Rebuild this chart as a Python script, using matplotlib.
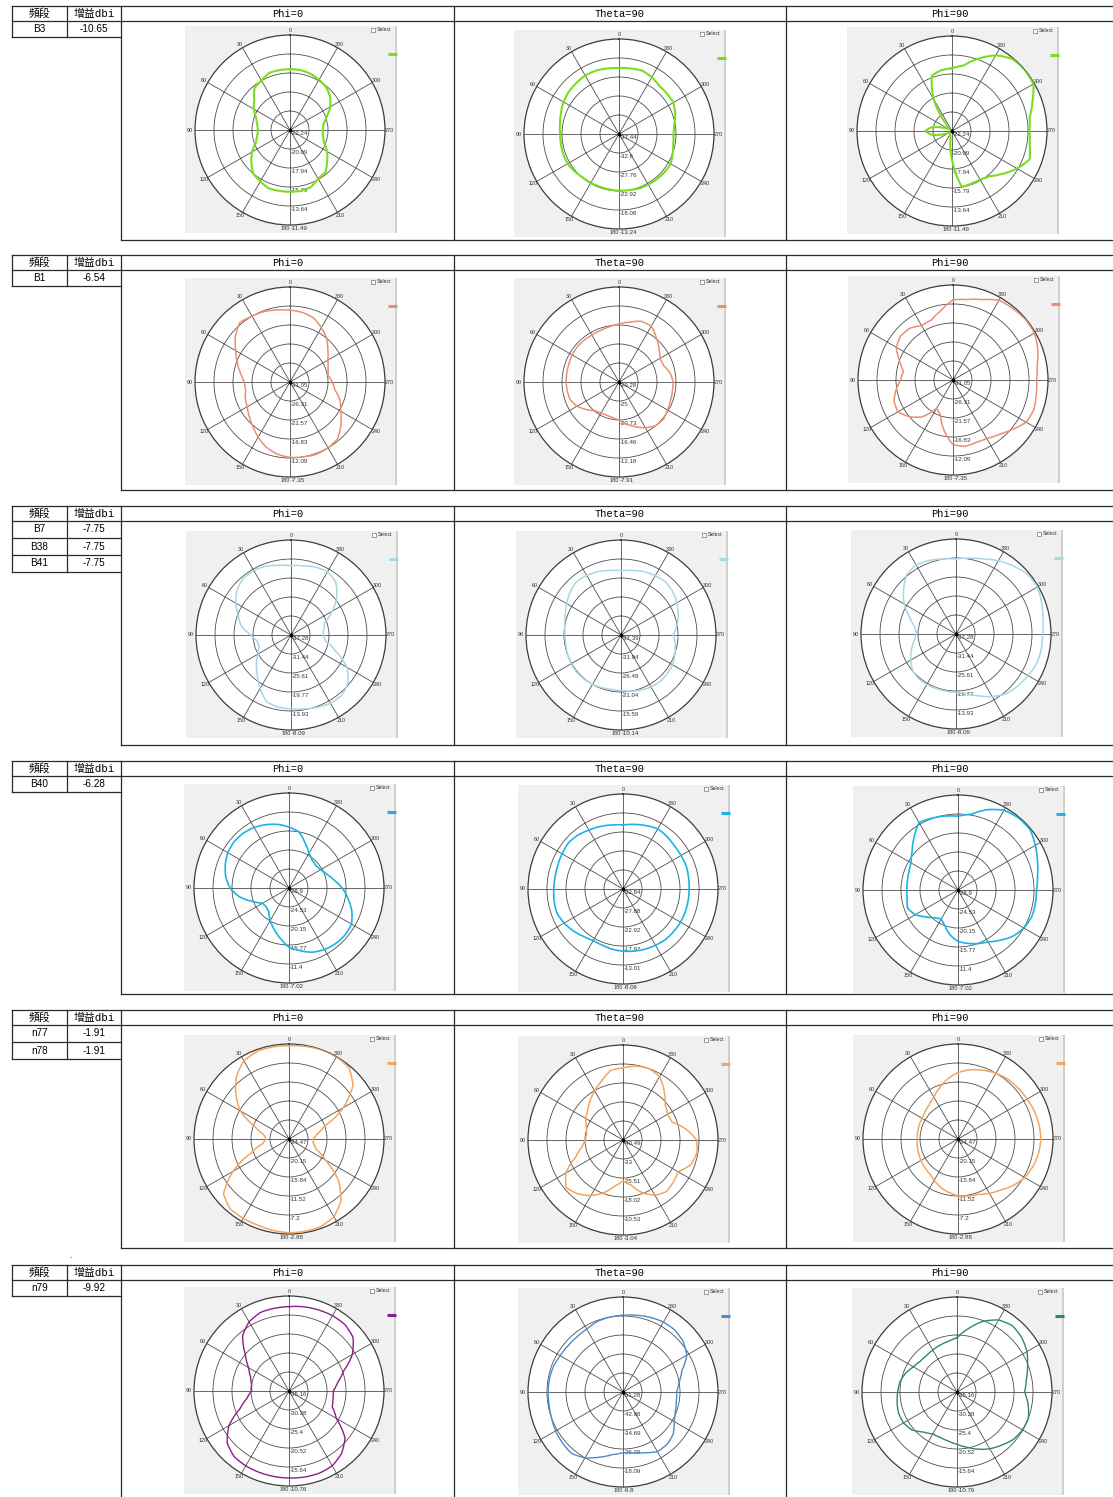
import numpy as np
import matplotlib.pyplot as plt
from matplotlib.patches import Rectangle

plt.rcParams['font.family'] = ['DejaVu Sans', 'Noto Sans CJK SC']

W, H = 1113, 1497

# gain (dB) sampled every 10 deg, 0..350
angles = list(range(0, 360, 10))

bands = [['B3'], ['B1'], ['B7', 'B38', 'B41'], ['B40'], ['n77', 'n78'], ['n79']]
gains = [['-10.65'], ['-6.54'], ['-7.75', '-7.75', '-7.75'], ['-6.28'], ['-1.91', '-1.91'], ['-9.92']]
cuts = ['Phi=0', 'Theta=90', 'Phi=90']

# radial grid of each plot: centre, 4 rings, outer circle
rings = [
    [[-22.24, -20.09, -17.94, -15.79, -13.64, -11.49], [-37.44, -32.6, -27.76, -22.92, -18.08, -13.24],
     [-22.24, -20.09, -17.94, -15.79, -13.64, -11.49]],
    [[-31.05, -26.31, -21.57, -16.83, -12.09, -7.35], [-29.28, -25, -20.73, -16.46, -12.18, -7.91],
     [-31.05, -26.31, -21.57, -16.83, -12.09, -7.35]],
    [[-37.28, -31.44, -25.61, -19.77, -13.93, -8.09], [-37.39, -31.94, -26.49, -21.04, -15.59, -10.14],
     [-37.28, -31.44, -25.61, -19.77, -13.93, -8.09]],
    [[-28.9, -24.53, -20.15, -15.77, -11.4, -7.02], [-32.84, -27.88, -22.92, -17.97, -13.01, -8.06],
     [-28.9, -24.53, -20.15, -15.77, -11.4, -7.02]],
    [[-24.47, -20.15, -15.84, -11.52, -7.2, -2.88], [-40.49, -33, -25.51, -18.02, -10.53, -3.04],
     [-24.47, -20.15, -15.84, -11.52, -7.2, -2.88]],
    [[-35.16, -30.28, -25.4, -20.52, -15.64, -10.76], [-51.28, -42.98, -34.69, -26.39, -18.09, -9.8],
     [-35.16, -30.28, -25.4, -20.52, -15.64, -10.76]],
]

b3_phi0 = [-15.36, -15.36, -15.36, -15.79, -16.0, -16.97,
           -17.51, -18.16, -18.48, -18.63, -18.48, -18.16,
           -17.3, -16.54, -15.79, -15.53, -15.21, -15.25,
           -15.25, -15.25, -15.36, -15.9, -16.0, -16.76,
           -17.4, -18.16, -18.48, -18.54, -18.41, -17.83,
           -16.97, -16.33, -15.9, -15.68, -15.47, -15.36]
b3_theta90 = [-20.65, -20.5, -20.26, -20.26, -20.5, -20.74,
              -21.13, -21.71, -22.19, -22.44, -22.44, -22.34,
              -22.34, -22.68, -23.02, -23.11, -23.16, -23.11,
              -23.02, -22.92, -22.68, -22.53, -22.44, -22.34,
              -22.24, -22.92, -23.4, -23.6, -23.16, -22.19,
              -21.47, -21.47, -21.47, -20.74, -20.26, -20.5]
b3_phi90 = [-15.15, -15.25, -15.58, -18.16, -21.27, -21.7,
            -21.81, -21.17, -19.87, -19.23, -19.87, -21.17,
            -21.81, -21.92, -21.92, -21.81, -21.7, -21.38,
            -19.02, -15.83, -15.9, -15.9, -15.58, -14.72,
            -13.75, -12.89, -13.32, -13.49, -13.32, -12.56,
            -11.6, -11.49, -11.6, -12.35, -13.53, -14.72]

b1_phi0 = [-13.13, -12.8, -12.33, -12.09, -11.62, -13.27,
           -15.41, -17.07, -18.54, -19.67, -19.82, -19.2,
           -18.73, -17.78, -16.59, -15.17, -13.75, -12.8,
           -12.23, -12.09, -11.85, -12.09, -12.56, -14.46,
           -16.45, -17.78, -19.67, -20.53, -21.43, -20.95,
           -20.15, -18.73, -16.83, -15.41, -13.99, -13.42]
b1_theta90 = [-16.24, -16.67, -16.97, -17.06, -17.06, -17.01,
              -17.1, -17.31, -17.36, -17.4, -17.48, -17.61,
              -18.38, -19.66, -20.86, -21.24, -21.33, -21.16,
              -20.73, -19.66, -18.59, -17.4, -16.46, -16.24,
              -16.67, -16.97, -17.1, -17.1, -17.61, -18.59,
              -18.68, -17.53, -16.24, -14.75, -14.75, -15.6]
b1_phi90 = [-11.05, -13.51, -15.17, -15.41, -14.22, -13.99,
            -14.7, -16.83, -18.49, -18.01, -16.59, -15.41,
            -15.17, -16.83, -19.01, -22.99, -21.81, -18.25,
            -14.93, -14.22, -14.46, -14.22, -13.27, -11.85,
            -9.96, -9.58, -9.96, -10.19, -9.72, -8.53,
            -7.59, -7.49, -7.82, -8.06, -9.72, -10.67]

b7_phi0 = [-15.97, -15.56, -14.8, -14.4, -14.51, -15.68,
           -17.72, -20.06, -21.81, -25.02, -26.77, -26.89,
           -25.6, -23.39, -21.23, -18.31, -15.39, -14.8,
           -14.57, -14.22, -13.64, -13.05, -13.05, -14.4,
           -17.43, -22.68, -26.48, -27.53, -27.06, -26.3,
           -22.68, -18.89, -15.97, -14.8, -15.1, -15.68]
b7_theta90 = [-18.91, -18.59, -18.04, -17.66, -17.5, -18.31,
              -19.4, -20.39, -21.04, -21.37, -21.31, -21.09,
              -20.93, -20.77, -20.88, -21.04, -21.31, -21.58,
              -21.48, -21.04, -20.6, -20.22, -19.95, -20.11,
              -20.33, -20.93, -21.58, -22.4, -21.04, -19.95,
              -18.86, -18.04, -17.5, -17.77, -18.04, -18.59]
b7_phi90 = [-14.22, -13.93, -13.23, -12.76, -13.64, -16.26,
            -18.89, -22.1, -24.44, -25.25, -24.14, -22.68,
            -21.23, -19.88, -19.36, -19.36, -19.47, -19.47,
            -19.36, -18.6, -17.08, -15.1, -13.34, -12.47,
            -11.71, -10.89, -10.66, -10.66, -10.13, -9.26,
            -8.38, -8.67, -9.96, -11.3, -12.76, -13.64]

b40_phi0 = [-14.85, -14.02, -13.37, -12.8, -12.45, -12.36,
            -12.62, -13.28, -14.11, -15.33, -17.3, -19.93,
            -21.9, -22.12, -21.68, -20.24, -18.84, -17.17,
            -15.25, -14.24, -13.15, -12.53, -12.18, -12.05,
            -12.27, -13.5, -15.12, -16.65, -18.4, -19.62,
            -20.5, -20.85, -20.59, -19.71, -17.96, -15.77]
b40_theta90 = [-16.14, -15.89, -15.49, -15.1, -14.5, -14.21,
               -14.5, -14.75, -14.85, -14.8, -14.6, -14.5,
               -15.1, -15.89, -16.73, -17.33, -17.23, -16.88,
               -16.63, -16.39, -16.14, -15.89, -15.64, -15.59,
               -15.54, -15.54, -15.59, -15.59, -15.49, -15.3,
               -15.35, -15.35, -15.0, -14.7, -15.25, -15.74]
b40_phi90 = [-11.92, -11.61, -11.31, -10.96, -13.15, -15.12,
             -16.43, -16.87, -17.08, -17.13, -17.0, -16.56,
             -17.52, -19.27, -20.59, -21.24, -20.15, -18.4,
             -17.08, -16.43, -15.77, -15.12, -13.8, -12.36,
             -11.4, -10.83, -10.83, -10.83, -10.3, -9.43,
             -8.33, -7.24, -7.24, -7.68, -9.21, -11.18]

n77_phi0 = [-3.27, -3.23, -3.27, -3.96, -5.9, -8.71,
            -11.73, -16.27, -18.64, -19.29, -18.42, -15.4,
            -9.79, -5.04, -3.7, -3.66, -3.66, -3.4,
            -3.18, -3.18, -3.31, -4.09, -6.12, -9.79,
            -14.97, -17.99, -18.86, -18.99, -17.99, -15.88,
            -10.22, -5.47, -3.31, -2.88, -2.88, -3.1]
n77_theta90 = [-12.03, -12.63, -15.77, -18.24, -20.27, -22.36,
               -23.56, -25.14, -26.03, -25.66, -24.01, -20.64,
               -14.42, -11.28, -12.78, -15.17, -18.39, -22.14,
               -24.31, -22.51, -18.39, -15.32, -13.9, -14.65,
               -15.4, -12.03, -10.9, -11.43, -15.4, -19.89,
               -20.27, -18.77, -15.25, -11.65, -10.53, -10.9]
n77_phi90 = [-9.36, -10.65, -12.16, -13.46, -14.32, -14.75,
             -15.06, -15.1, -15.19, -15.19, -15.1, -14.97,
             -14.75, -14.54, -14.32, -13.67, -12.81, -12.16,
             -11.6, -11.3, -11.08, -10.22, -9.36, -8.06,
             -6.98, -6.33, -5.9, -5.64, -5.77, -5.99,
             -6.33, -6.55, -6.77, -7.2, -7.85, -8.49]

n79_phi0 = [-13.49, -13.59, -13.69, -14.66, -16.62, -20.52,
            -23.2, -24.67, -25.4, -25.55, -24.18, -21.74,
            -17.35, -14.42, -13.2, -12.96, -12.91, -12.86,
            -12.81, -12.71, -12.66, -12.96, -14.18, -16.37,
            -21.15, -23.35, -23.69, -23.79, -22.47, -20.28,
            -16.37, -13.69, -12.86, -12.81, -13.0, -13.2]
n79_theta90 = [-17.76, -18.1, -18.51, -19.59, -19.92, -19.92,
               -19.59, -18.93, -18.68, -18.59, -18.51, -18.1,
               -17.27, -16.77, -16.27, -18.1, -21.0, -23.49,
               -24.82, -24.32, -23.07, -21.25, -21.41, -22.66,
               -25.56, -26.97, -27.64, -27.89, -26.39, -23.9,
               -19.09, -17.02, -16.02, -16.02, -16.6, -17.27]
n79_phi90 = [-21.25, -21.98, -22.37, -22.72, -22.96, -22.86,
             -22.23, -21.11, -20.28, -19.93, -19.54, -19.2,
             -19.3, -20.03, -21.74, -22.72, -22.72, -22.37,
             -21.74, -20.76, -19.54, -18.32, -17.35, -16.23,
             -15.74, -15.64, -16.62, -17.79, -17.1, -15.88,
             -14.42, -13.44, -12.96, -13.79, -15.88, -18.67]

patterns = [[b3_phi0, b3_theta90, b3_phi90],
            [b1_phi0, b1_theta90, b1_phi90],
            [b7_phi0, b7_theta90, b7_phi90],
            [b40_phi0, b40_theta90, b40_phi90],
            [n77_phi0, n77_theta90, n77_phi90],
            [n79_phi0, n79_theta90, n79_phi90]]

colors = [['#7ddc1f'] * 3, ['#eb8f72'] * 3, ['#a8d6e4'] * 3, ['#1cb3e6'] * 3, ['#f2a65e'] * 3,
          ['#8b1c8b', '#4a8cc8', '#2e8b57']]
widths = [1.5, 1.1, 1.1, 1.2, 1.1, 1.0]

# page layout (pixels)
row_top = [6, 255, 506, 761, 1010, 1265]
row_bot = [240, 490, 745, 994, 1248, 1497]
centers = [[(290, 130), (619, 134), (952, 131)],
           [(290, 382), (619, 382), (953, 380)],
           [(291, 635), (621, 635), (956, 634)],
           [(289, 888), (623, 889), (958, 890)],
           [(289, 1139), (623, 1140), (958, 1139)],
           [(289, 1391), (623, 1392), (957, 1392)]]
R = 95
col_x = [12, 67, 121, 454, 786, 1113]

fig = plt.figure(figsize=(W / 100, H / 100), dpi=100)
bg = fig.add_axes([0, 0, 1, 1])
bg.set_xlim(0, W)
bg.set_ylim(H, 0)
bg.axis('off')

line_kw = dict(color='#2a2a2a', lw=0.9)
hdr_font = ['Liberation Mono', 'Noto Sans CJK SC']
cell_font = ['Liberation Sans', 'DejaVu Sans']

for i in range(6):
    top, bot = row_top[i], row_bot[i]
    hdr = top + 15
    n = len(bands[i])
    lt_bot = hdr + 16 * n if n == 1 else hdr + 17 * n
    bg.plot([col_x[0], W], [top, top], **line_kw)
    bg.plot([col_x[0], W], [hdr, hdr], **line_kw)
    for k in range(n):
        y = hdr + (lt_bot - hdr) / n * (k + 1)
        bg.plot([col_x[0], col_x[2]], [y, y], **line_kw)
        yc = hdr + (lt_bot - hdr) / n * (k + 0.5)
        bg.text((col_x[0] + col_x[1]) / 2, yc, bands[i][k], ha='center', va='center',
                fontsize=7.2, family=cell_font)
        bg.text((col_x[1] + col_x[2]) / 2, yc, gains[i][k], ha='center', va='center',
                fontsize=7.2, family=cell_font)
    bg.plot([col_x[0], col_x[0]], [top, lt_bot], **line_kw)
    bg.plot([col_x[1], col_x[1]], [top, lt_bot], **line_kw)
    for x in col_x[2:5]:
        bg.plot([x, x], [top, bot], **line_kw)
    if i < 5:
        bg.plot([col_x[2], W], [bot, bot], **line_kw)
    bg.text((col_x[0] + col_x[1]) / 2, top + 7.8, '頻段', ha='center', va='center',
            fontsize=7.8, family=hdr_font)
    bg.text((col_x[1] + col_x[2]) / 2, top + 7.8, '增益dbi', ha='center', va='center',
            fontsize=7.8, family=hdr_font)
    for j in range(3):
        bg.text((col_x[2 + j] + col_x[3 + j]) / 2, top + 7.8, cuts[j], ha='center',
                va='center', fontsize=7.5, family=hdr_font)

bg.text(70, 1255, '.', fontsize=6, ha='center', va='center')

for i in range(6):
    for j in range(3):
        cx, cy = centers[i][j]
        col = colors[i][j]
        rr = rings[i][j]
        lo, hi = rr[0], rr[-1]
        bg.add_patch(Rectangle((cx - 105, cy - 104), 212, 207, fc='#f0f0f0', ec='none'))
        bg.add_patch(Rectangle((cx + 105, cy - 104), 2, 207, fc='#cfcfcf', ec='none'))
        bg.add_patch(Rectangle((cx + 81, cy - 102.5), 4, 4, fc='white', ec='#555555', lw=0.4))
        bg.text(cx + 87, cy - 100.3, 'Select', fontsize=3.8, va='center', color='#333333',
                family=cell_font)
        bg.plot([cx + 98, cx + 107], [cy - 76, cy - 76], color=col, lw=2.2, solid_capstyle='butt')

        ax = fig.add_axes([(cx - R) / W, 1 - (cy + R) / H, 2 * R / W, 2 * R / H],
                          projection='polar')
        ax.set_theta_zero_location('N')
        ax.set_theta_direction(1)
        ax.set_ylim(lo, hi)
        ax.set_yticks(rr[1:5])
        ax.set_yticklabels([])
        ax.set_xticks(np.radians(np.arange(0, 360, 30)))
        ax.set_xticklabels([])
        ax.grid(True, color='#4d4d4d', lw=0.6)
        ax.spines['polar'].set_color('#3d3d3d')
        ax.spines['polar'].set_linewidth(0.9)
        ax.set_facecolor('white')

        th = np.radians(angles + [360])
        vals = patterns[i][j] + [patterns[i][j][0]]
        ln, = ax.plot(th, vals, color=col, lw=widths[i], zorder=5)
        # let the polar transform draw each segment along theta (no straight chords)
        ln.get_path()._interpolation_steps = 12
        ax.plot([0], [lo], 's', color='black', ms=1.8, zorder=6)

        tk = dict(textcoords='offset points', color='#333333',
                  annotation_clip=False, family=cell_font)
        for a in range(0, 360, 30):
            t = np.radians(a)
            if a == 180:
                ax.annotate('180', (t, hi), xytext=(-0.2, -1.0), ha='right', va='top',
                            fontsize=4.0, **tk)
                continue
            ax.annotate(str(a), (t, hi), xytext=(3.4 * -np.sin(t), 3.0 * np.cos(t)),
                        ha='center', va='center', fontsize=3.9, **tk)
        for v in rr:
            ax.annotate('%g' % v, (np.pi, v), xytext=(0.6, -1.0), ha='left', va='top',
                        fontsize=4.4, **tk)

fig.savefig('out.png', dpi=100)
